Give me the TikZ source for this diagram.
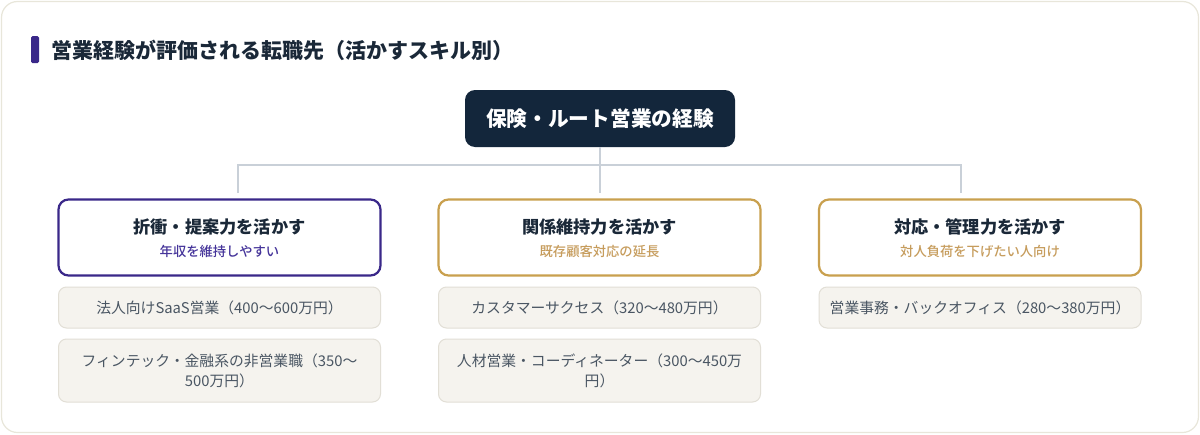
\documentclass[tikz,border=0pt]{standalone}
\usepackage{fontspec}
\setmainfont{Noto Sans CJK JP}
\newfontfamily\medfont{Noto Sans CJK JP Medium}
\definecolor{navy}{HTML}{13263B}
\definecolor{titlec}{HTML}{1A2838}
\definecolor{indigo}{HTML}{3A2889}
\definecolor{subindigo}{HTML}{45349A}
\definecolor{gold}{HTML}{C9A04E}
\definecolor{goldtext}{HTML}{C69C5C}
\definecolor{connc}{HTML}{C9D0D8}
\definecolor{itemfill}{HTML}{F5F3EE}
\definecolor{itemdraw}{HTML}{E2DFD6}
\definecolor{itemtext}{HTML}{4A5663}
\definecolor{cardborder}{HTML}{E8E6DA}
\begin{document}
\begin{tikzpicture}[x=1pt,y=-1pt,
  rootbox/.style={fill=navy, rounded corners=10pt, minimum width=270pt, minimum height=57pt, inner sep=0pt,
    text=white, font=\bfseries\fontsize{20.7}{24}\selectfont},
  catbox/.style={fill=white, line width=2.2pt, rounded corners=10pt, minimum width=322pt, minimum height=76pt, inner sep=0pt},
  cattitle/.style={inner sep=0pt, text=titlec, font=\bfseries\fontsize{17.2}{20}\selectfont},
  catsub/.style={inner sep=0pt, font=\medfont\fontsize{13.3}{16}\selectfont},
  itembox/.style={fill=itemfill, draw=itemdraw, line width=1pt, rounded corners=8pt, minimum width=322pt,
    inner sep=0pt, align=center, text=itemtext, font=\fontsize{14.8}{20}\selectfont},
  conn/.style={draw=connc, line width=2pt}]
\useasboundingbox (0,0) rectangle (1200,434);
\draw[draw=cardborder, fill=white, line width=1.2pt, rounded corners=16pt] (1.5,1.5) rectangle (1198.5,432.5);
% title
\fill[indigo, rounded corners=1.5pt] (31,36) rectangle (39,63);
\node[anchor=west, inner sep=0pt, text=titlec, font=\bfseries\fontsize{21}{24}\selectfont] (title) at (51,50)
  {営業経験が評価される転職先（活かすスキル別）};
% root
\node[rootbox] (root) at (600,118.5) {保険・ルート営業の経験};
% connectors
\coordinate (j1) at (238,193);
\coordinate (j2) at (600,193);
\coordinate (j3) at (961,193);
\coordinate (hr) at (961,165);
\draw[conn] (root.south) -- (j2);
\draw[conn] (j1) |- (hr) -- (j3);
% categories
\node[catbox, draw=indigo] (c1) at (219.5,237.5) {};
\node[catbox, draw=gold] (c2) at (599.5,237.5) {};
\node[catbox, draw=gold] (c3) at (980,237.5) {};
\node[cattitle] (c1t) at (219.5,226.5) {折衝・提案力を活かす};
\node[catsub, text=subindigo] (c1s) at (219.5,251.5) {年収を維持しやすい};
\node[cattitle] (c2t) at (599.5,226.5) {関係維持力を活かす};
\node[catsub, text=goldtext] (c2s) at (599.5,251.5) {既存顧客対応の延長};
\node[cattitle] (c3t) at (980,226.5) {対応・管理力を活かす};
\node[catsub, text=goldtext] (c3s) at (980,251.5) {対人負荷を下げたい人向け};
% items
\node[itembox, minimum height=41pt] (i11) at (219.5,307.5) {法人向けSaaS営業（400〜600万円）};
\node[itembox, minimum height=63pt] (i12) at (219.5,370.5) {フィンテック・金融系の非営業職（350〜\\500万円）};
\node[itembox, minimum height=41pt] (i21) at (599.5,307.5) {カスタマーサクセス（320〜480万円）};
\node[itembox, minimum height=63pt] (i22) at (599.5,370.5) {人材営業・コーディネーター（300〜450万\\円）};
\node[itembox, minimum height=41pt] (i31) at (980,307.5) {営業事務・バックオフィス（280〜380万円）};
\end{tikzpicture}
\end{document}
